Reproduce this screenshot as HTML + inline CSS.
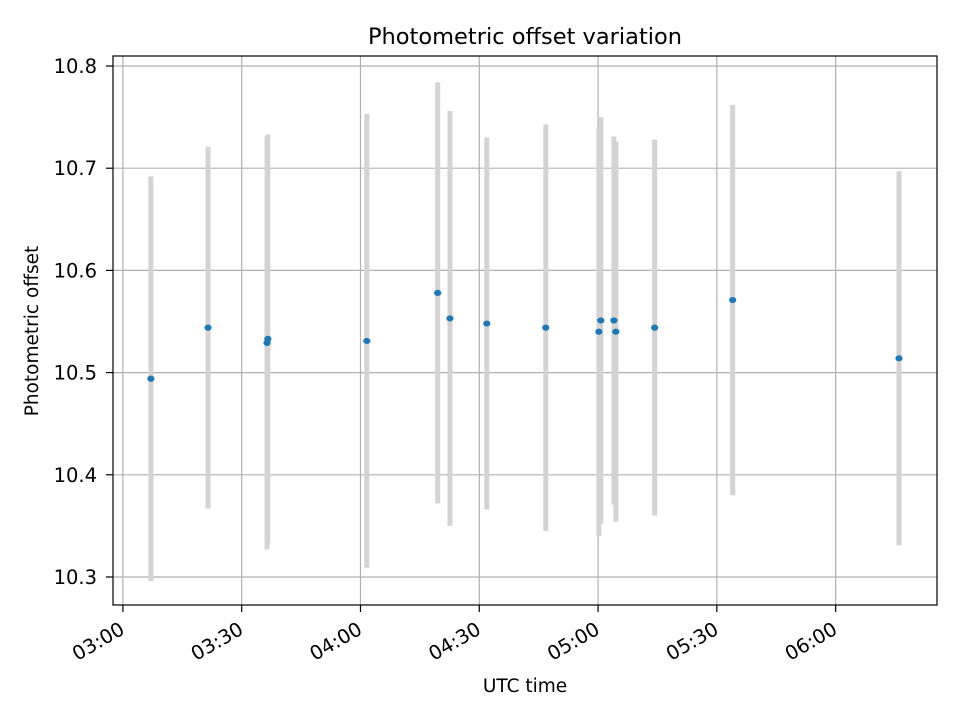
<!DOCTYPE html>
<html><head><meta charset="utf-8"><style>
body{margin:0;background:#fff;font-family:"DejaVu Sans","Liberation Sans",sans-serif;}
svg text{font-family:"DejaVu Sans","Liberation Sans",sans-serif;}
</style></head><body>
<svg id="chart" width="960" height="720" viewBox="0 0 960 720" xmlns="http://www.w3.org/2000/svg">
<rect width="960" height="720" fill="#fff"/>
<g id="grid"></g><g id="bars"></g><g id="pts"></g><g id="axes"></g>
<text x="525" y="44" text-anchor="middle" font-size="22.5">Photometric offset variation</text>
<text x="525" y="692" text-anchor="middle" font-size="18.5">UTC time</text>
<text transform="translate(38,331) rotate(-90)" text-anchor="middle" font-size="18.5">Photometric offset</text>
</svg>
<script>
// minutes after 03:00 UTC
const times=[7.07,21.5,36.4,36.6,61.6,79.5,82.6,91.9,106.8,120.2,120.7,124,124.5,134.3,154,196];
const offsets=[10.494,10.544,10.529,10.533,10.531,10.578,10.553,10.548,10.544,10.540,10.551,10.551,10.540,10.544,10.571,10.514];
const errors=[0.198,0.177,0.202,0.200,0.222,0.206,0.203,0.182,0.199,0.200,0.199,0.180,0.186,0.184,0.191,0.183];
const yTicks=[10.3,10.4,10.5,10.6,10.7,10.8];
const xTickMinutes=[0,30,60,90,120,150,180];
const xTickLabels=["03:00","03:30","04:00","04:30","05:00","05:30","06:00"];

const L=113,R=937,T=56,B=605;
const xMin=-2.5,xMax=205.6,yMin=10.2726,yMax=10.8098;
const X=m=>L+(m-xMin)/(xMax-xMin)*(R-L);
const Y=v=>B-(v-yMin)/(yMax-yMin)*(B-T);
const NS="http://www.w3.org/2000/svg";
function mk(parent,tag,attrs){const e=document.createElementNS(NS,tag);for(const k in attrs)e.setAttribute(k,attrs[k]);document.getElementById(parent).appendChild(e);return e;}

yTicks.forEach((v,i)=>{
  const g=mk('grid','line',{x1:L,x2:R,y1:Y(v),y2:Y(v),stroke:'#b0b0b0','stroke-width':1.2});
  
  
  mk('axes','line',{x1:L-7,x2:L,y1:Y(v),y2:Y(v),stroke:'#000','stroke-width':1.2});
  const t=mk('axes','text',{x:L-16,y:Y(v)+7,'text-anchor':'end','font-size':19.5});
  t.textContent=v.toFixed(1);
  
  
});
xTickMinutes.forEach((m,i)=>{
  const x=X(m);
  const g=mk('grid','line',{x1:x,x2:x,y1:T,y2:B,stroke:'#b0b0b0','stroke-width':1.2});
  
  
  mk('axes','line',{x1:x,x2:x,y1:B,y2:B+7,stroke:'#000','stroke-width':1.2});
  const t=mk('axes','text',{transform:`translate(${x+3},${B+28}) rotate(-30)`,'text-anchor':'end','font-size':19.5});
  t.textContent=xTickLabels[i];
  
  
});
times.forEach((m,i)=>{
  const b=mk('bars','line',{x1:X(m),x2:X(m),y1:Y(offsets[i]+errors[i]),y2:Y(offsets[i]-errors[i]),stroke:'#d3d3d3','stroke-width':5});
  
  
  const p=mk('pts','ellipse',{cx:X(m),cy:Y(offsets[i]),rx:3.6,ry:3.1,fill:'#1f77b4'});
  
  
});
const f=mk('axes','rect',{x:L,y:T,width:R-L,height:B-T,fill:'none',stroke:'#000','stroke-width':1.2});


</script>
</body></html>
